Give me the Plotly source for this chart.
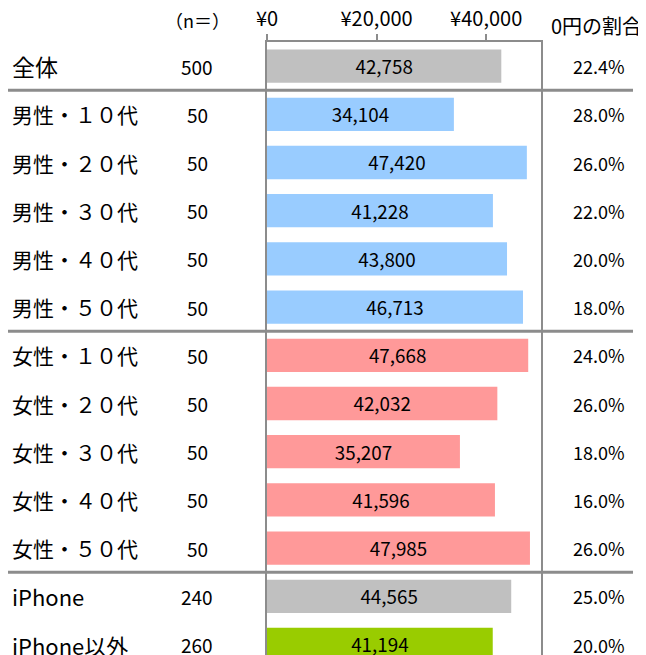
import plotly.graph_objects as go

categories = ["全体", "男性・１０代", "男性・２０代", "男性・３０代", "男性・４０代", "男性・５０代",
              "女性・１０代", "女性・２０代", "女性・３０代", "女性・４０代", "女性・５０代",
              "iPhone", "iPhone以外"]
n_values = [500, 50, 50, 50, 50, 50, 50, 50, 50, 50, 50, 240, 260]
amounts = [42758, 34104, 47420, 41228, 43800, 46713, 47668, 42032, 35207, 41596, 47985, 44565, 41194]
zero_share = ["22.4%", "28.0%", "26.0%", "22.0%", "20.0%", "18.0%", "24.0%", "26.0%", "18.0%",
              "16.0%", "26.0%", "25.0%", "20.0%"]
bar_colors = ["#C0C0C0"] + ["#99CCFF"] * 5 + ["#FF9999"] * 5 + ["#C0C0C0", "#99CC00"]
tick_vals = [0, 20000, 40000]
tick_text = ["¥0", "¥20,000", "¥40,000"]
separators_after = [0, 5, 10]

# page body has an 8px default margin; compensate so window coords match
OFF = 8
WIN_W, WIN_H = 646, 655
W, H = WIN_W - OFF, WIN_H - OFF
L, R, T = 267, 541, 42          # window coordinates of plot area
plot_w = R - L
plot_h = WIN_H - T
row_h = 48.2
n_rows_visible = plot_h / row_h

FONT = "Noto Sans CJK JP"
GRAY = "#8C8C8C"

fig = go.Figure()
fig.add_trace(go.Bar(
    y=list(range(len(categories))), x=amounts, orientation="h",
    marker=dict(color=bar_colors, line=dict(width=0)),
    text=[f"{v:,}" for v in amounts], textposition="inside", insidetextanchor="middle",
    textfont=dict(family=FONT, size=20, color="black"),
    width=0.69, hoverinfo="skip",
))

def px_x(px):
    return (px - L) / plot_w

def px_y(py):
    return 1 + (T - py) / plot_h

def label_size(cat):
    if cat == "全体":
        return 23
    if cat.startswith("iPhone"):
        return 22
    return 21

annotations = []
for i, cat in enumerate(categories):
    annotations.append(dict(x=px_x(10), y=i, xref="paper", yref="y", text=cat,
                            xanchor="left", yanchor="middle", showarrow=False,
                            font=dict(family=FONT, size=label_size(cat), color="black")))
    annotations.append(dict(x=px_x(197), y=i, xref="paper", yref="y", text=str(n_values[i]),
                            xanchor="center", yanchor="middle", showarrow=False,
                            font=dict(family=FONT, size=19, color="black")))
    annotations.append(dict(x=px_x(627), y=i, xref="paper", yref="y", text=zero_share[i],
                            xanchor="right", yanchor="middle", showarrow=False,
                            font=dict(family=FONT, size=18, color="black")))
annotations.append(dict(x=px_x(197), y=px_y(20), xref="paper", yref="paper", text="（n＝）",
                        xanchor="center", yanchor="middle", showarrow=False,
                        font=dict(family=FONT, size=18, color="black")))
annotations.append(dict(x=px_x(549), y=px_y(25), xref="paper", yref="paper", text="0円の割合",
                        xanchor="left", yanchor="middle", showarrow=False,
                        font=dict(family=FONT, size=20, color="black")))

shapes = []
for s in separators_after:
    shapes.append(dict(type="line", xref="paper", yref="y", x0=px_x(4), x1=px_x(633),
                       y0=s + 0.5, y1=s + 0.5, line=dict(color=GRAY, width=3)))

fig.update_layout(
    width=W, height=H,
    margin=dict(l=L - OFF, r=W - (R - OFF), t=T - OFF, b=0, pad=0),
    paper_bgcolor="white", plot_bgcolor="white",
    showlegend=False,
    annotations=annotations, shapes=shapes,
    xaxis=dict(side="top", range=[0, 50000], tickvals=tick_vals, ticktext=tick_text,
               ticks="outside", ticklen=6, tickcolor=GRAY, tickwidth=2, automargin=False,
               showgrid=False, zeroline=False, showline=True, linecolor=GRAY, linewidth=2, mirror=True,
               tickfont=dict(family=FONT, size=20, color="black")),
    yaxis=dict(range=[n_rows_visible - 0.5, -0.5], showticklabels=False, ticks="", automargin=False,
               showgrid=False, zeroline=False, showline=True, linecolor=GRAY, linewidth=2, mirror=True),
)

fig.write_html("out.html")
